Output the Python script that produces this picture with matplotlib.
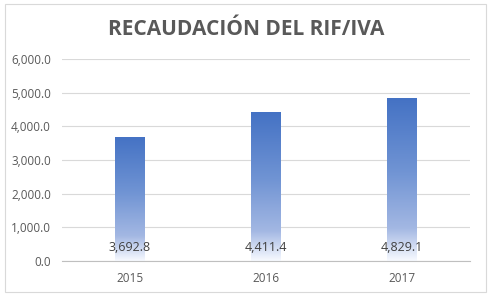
import numpy as np
import matplotlib
matplotlib.use("Agg")
import matplotlib.pyplot as plt
from matplotlib.colors import LinearSegmentedColormap
from matplotlib.patches import Rectangle

years = ["2015", "2016", "2017"]
values = [3692.8, 4411.4, 4829.1]
yticks = [0, 1000, 2000, 3000, 4000, 5000, 6000]

plt.rcParams['font.family'] = ['Open Sans', 'DejaVu Sans']
gray = "#595959"

fig = plt.figure(figsize=(4.92, 2.99), dpi=100)
ax = fig.add_axes([0.126, 0.127, 0.829, 0.676])

# borde del grafico
fig.patches.append(Rectangle((5/492, 1 - 292/299), 481/492, 288/299, transform=fig.transFigure,
                             fill=False, edgecolor="#d9d9d9", linewidth=0.8))

# degradado azul (abajo claro, arriba oscuro)
cmap = LinearSegmentedColormap.from_list("grad", [
    (0.0, (0.97, 0.98, 1.0)),
    (0.2, (0.64, 0.72, 0.89)),
    (0.55, (0.44, 0.58, 0.83)),
    (1.0, (0.267, 0.447, 0.769)),
])

x = np.arange(len(years))
bars = ax.bar(x, values, width=0.22, color="none", edgecolor="none", zorder=2)
grad = np.linspace(0, 1, 256).reshape(-1, 1)
for b in bars:
    x0, w, h = b.get_x(), b.get_width(), b.get_height()
    im = ax.imshow(grad, cmap=cmap, origin="lower", aspect="auto",
                   extent=[x0, x0 + w, 0, h], zorder=2)
    im.set_clip_path(b)

for xi, v in zip(x, values):
    ax.annotate(f"{v:,.1f}", (xi, 0), xytext=(0, 10), textcoords="offset points",
                ha="center", va="center", fontsize=9, color="#404040", zorder=3)

ax.set_xlim(-0.5, 2.5)
ax.set_ylim(0, 6000)
ax.set_xticks(x)
ax.set_xticklabels(years)
ax.set_yticks(yticks)
ax.set_yticklabels([f"{t:,.1f}" for t in yticks])
ax.grid(axis="y", color="#d9d9d9", linewidth=0.8, zorder=0)
ax.set_axisbelow(True)
for s in ["top", "right", "left"]:
    ax.spines[s].set_visible(False)
ax.spines["bottom"].set_color("#bfbfbf")
ax.tick_params(length=0, colors=gray, labelsize=8.5)
ax.tick_params(axis="x", pad=8)
ax.tick_params(axis="y", pad=8)

fig.text(0.5, 0.9, "RECAUDACIÓN DEL RIF/IVA", ha="center", va="center",
         fontsize=15, fontweight="bold", color=gray)

fig.savefig("out.png", dpi=100)
